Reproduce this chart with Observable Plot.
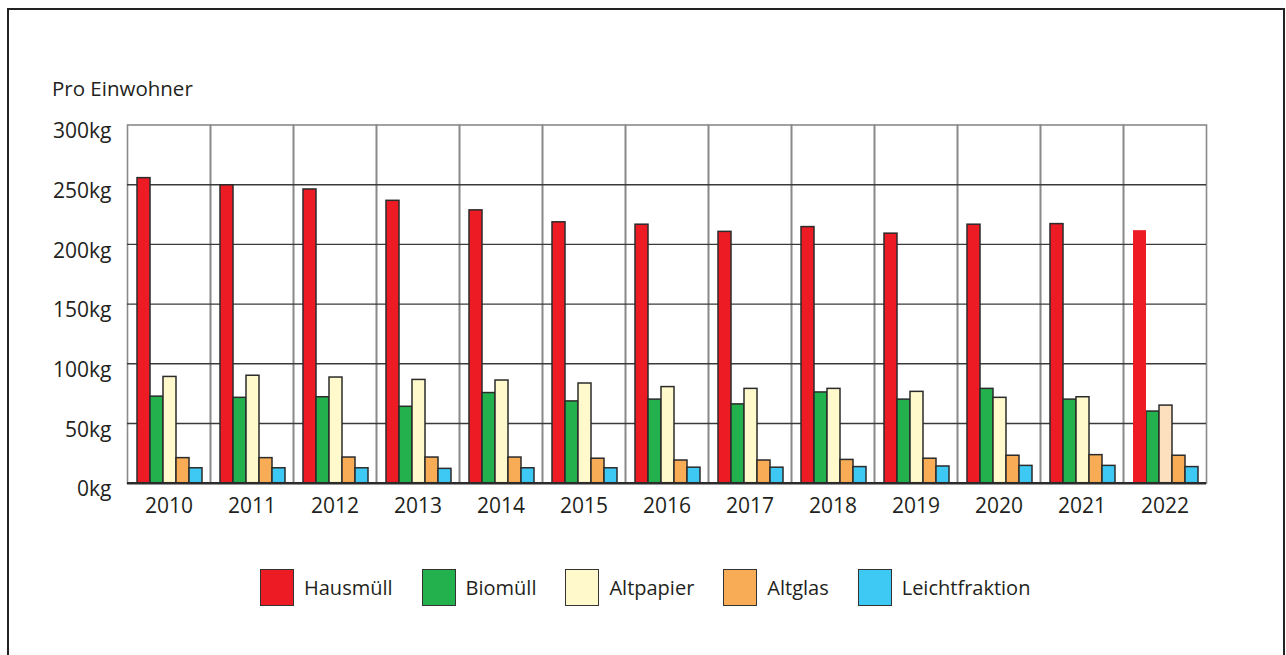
<!DOCTYPE html>
<html>
<head>
<meta charset="utf-8">
<script src="https://cdn.jsdelivr.net/npm/d3@7"></script>
<script src="https://cdn.jsdelivr.net/npm/@observablehq/plot@0.6"></script>
<style>
  html, body { margin: 0; padding: 0; background: #fff; overflow: hidden; }
  body { width: 1286px; height: 655px; position: relative; font-family: "Open Sans", sans-serif; color: #231f20; }
  #frame { position: absolute; left: 7px; top: 8px; width: 1278px; height: 700px;
           border-left: 2.5px solid #222; border-top: 2.5px solid #222; border-right: 2.5px solid #222; box-sizing: border-box; }
  #unit { position: absolute; left: 52px; top: 74px; font-size: 20.5px; }
  #chart { position: absolute; left: 0; top: 0; }
  #legend { position: absolute; left: 260px; top: 569px; display: flex; align-items: center; font-size: 20px; }
  .item { display: flex; align-items: center; margin-right: 29px; }
  .sw { width: 32px; height: 35px; border: 1.5px solid #333; margin-right: 10px; }
</style>
</head>
<body>
<div id="frame"></div>
<div id="unit">Pro Einwohner</div>
<div id="chart"></div>
<div id="legend"></div>
<script>
const years = ["2010","2011","2012","2013","2014","2015","2016","2017","2018","2019","2020","2021","2022"];
const seriesNames = ["Hausmüll","Biomüll","Altpapier","Altglas","Leichtfraktion"];
const seriesColors = ["#ed1c24","#22b14c","#fff9cc","#f9ac56","#3ec8f4"];
const hausmuell = [255.5, 249.5, 246, 236.5, 228.5, 218.5, 216.5, 210.5, 214.5, 209, 216.5, 217, 211.5];
const biomuell  = [72.5, 71.5, 72, 64, 75.5, 68.5, 70, 66, 76, 70, 79, 70, 60];
const altpapier = [89, 90, 88.5, 86.5, 86, 83.5, 80.5, 79, 79, 76.5, 71.5, 72, 65];
const altglas   = [21, 21, 21.5, 21.5, 21.5, 20.5, 19, 19, 19.5, 20.5, 23, 23.5, 23];
const leicht    = [12.5, 12.5, 12.5, 12, 12.5, 12.5, 13, 13, 13.5, 14, 14.5, 14.5, 13.5];
const yTicks = [0, 50, 100, 150, 200, 250, 300];
// 2022 differs: Hausmüll drawn without outline, Altpapier in a peach tint
const specialYear = "2022";
const peach = "#fde0bd";

const valuesBySeries = [hausmuell, biomuell, altpapier, altglas, leicht];
const data = [];
years.forEach((yr, i) => {
  seriesNames.forEach((s, j) => {
    let fill = seriesColors[j];
    if (yr === specialYear && s === "Altpapier") fill = peach;
    data.push({year: yr, series: s, value: valuesBySeries[j][i], fill,
               outlined: !(yr === specialYear && s === "Hausmüll")});
  });
});

const chart = Plot.plot({
  width: 1286,
  height: 530,
  marginLeft: 126,
  marginRight: 79,
  marginTop: 124.5,
  marginBottom: 47.3,
  style: {fontFamily: "'Open Sans', sans-serif", fontSize: "21px", color: "#231f20", background: "transparent"},
  fx: {domain: years, padding: 0, label: null},
  x: {domain: seriesNames, paddingInner: 0, paddingOuter: 0.68, align: 0.56, axis: null},
  y: {domain: [0, 300], axis: null},
  color: {type: "identity"},
  marks: [
    Plot.frame({stroke: "#8a8a8a", strokeWidth: 1.6}),
    Plot.ruleY(yTicks.filter(t => t > 0 && t < 300), {stroke: "#3a3a3a", strokeWidth: 1.4}),
    Plot.barY(data.filter(d => d.outlined), {fx: "year", x: "series", y: "value", fill: "fill", stroke: "#2b2b2b", strokeWidth: 1.5}),
    Plot.barY(data.filter(d => !d.outlined), {fx: "year", x: "series", y: "value", fill: "fill"}),
    Plot.ruleY([0], {stroke: "#2b2b2b", strokeWidth: 2.6}),
    Plot.axisY(yTicks, {tickSize: 0, tickPadding: 16, tickFormat: d => d + "kg", dy: 6.5, fontSize: 21, label: null}),
    Plot.axisFx({anchor: "bottom", tickSize: 0, tickPadding: 15, fontSize: 21, label: null})
  ]
});
document.getElementById("chart").appendChild(chart);

const legend = document.getElementById("legend");
seriesNames.forEach((s, j) => {
  const it = document.createElement("div");
  it.className = "item";
  const sw = document.createElement("div");
  sw.className = "sw";
  sw.style.background = seriesColors[j];
  const t = document.createElement("span");
  t.textContent = s;
  it.appendChild(sw); it.appendChild(t);
  legend.appendChild(it);
});
</script>
</body>
</html>
